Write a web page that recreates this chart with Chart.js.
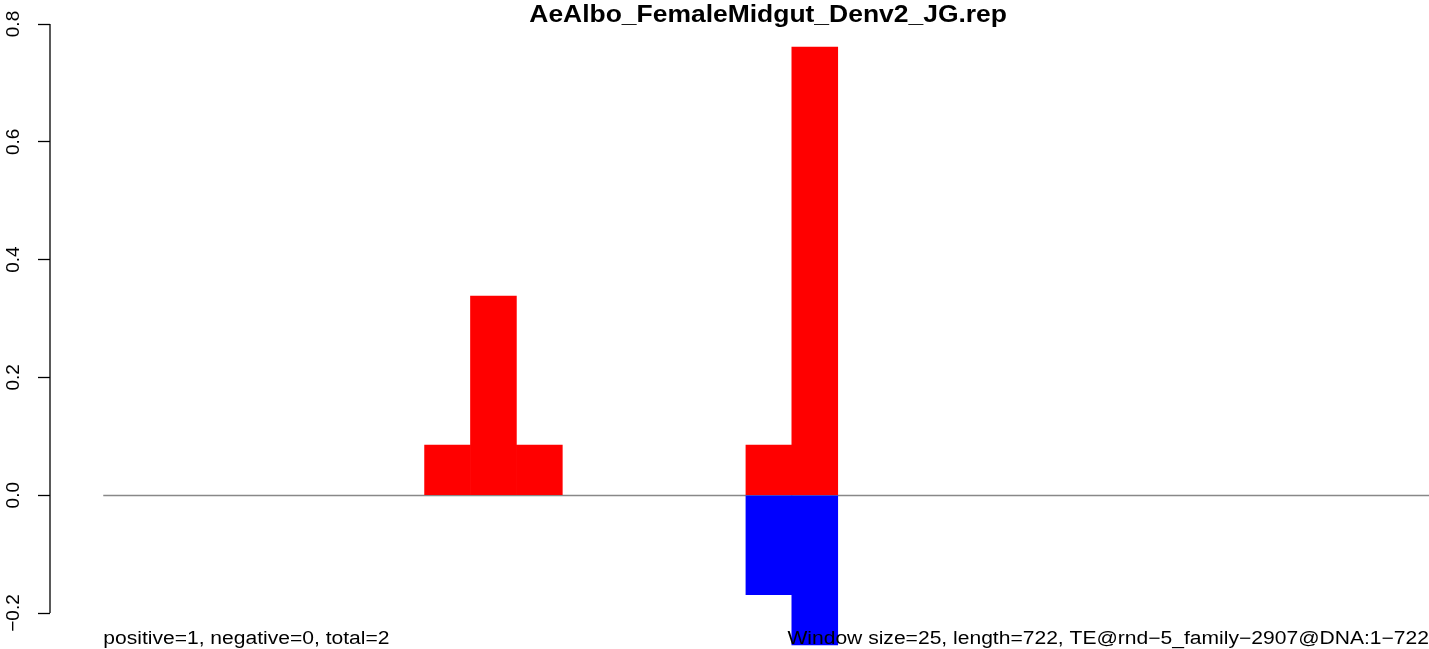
<!DOCTYPE html>
<html lang="en">
<head>
  <meta charset="UTF-8">
  <title>AeAlbo_FemaleMidgut_Denv2_JG.rep</title>
  <script src="https://cdn.jsdelivr.net/npm/chart.js"></script>
  <style>
    html, body {
      margin: 0;
      padding: 0;
      background: #fff;
    }
    #wrap {
      width: 1429px;
      height: 649px;
    }
  </style>
</head>
<body>
  <div id="wrap"><canvas id="repChart"></canvas></div>

  <script>
    const titleText = 'AeAlbo_FemaleMidgut_Denv2_JG.rep';
    const leftNote = 'positive=1, negative=0, total=2';
    const rightNote = 'Window size=25, length=722, TE@rnd\u22125_family\u22122907@DNA:1\u2212722';

    const windowSize = 25;
    const seqLength = 722;
    // one value per 25bp window (29 windows)
    const positiveValues = [0, 0, 0, 0, 0, 0, 0, 0.085, 0.338, 0.085, 0, 0, 0, 0, 0.085, 0.761,
      0, 0, 0, 0, 0, 0, 0, 0, 0, 0, 0, 0, 0];
    const negativeValues = [0, 0, 0, 0, 0, 0, 0, 0, 0, 0, 0, 0, 0, 0, -0.169, -0.254,
      0, 0, 0, 0, 0, 0, 0, 0, 0, 0, 0, 0, 0];
    const yTicks = [-0.2, 0, 0.2, 0.4, 0.6, 0.8];

    // empty windows get no bar at all
    const toPoints = (vals) => vals.map((v, i) => ({ x: i * windowSize + windowSize / 2, y: v === 0 ? null : v }));
    const fmt = (v) => v.toFixed(1).replace('-', '\u2212');

    // R style extras: axis line only between end ticks, zero line, title and notes
    const rExtras = {
      id: 'rExtras',
      beforeDatasetsDraw(chart) {
        const { ctx, scales: { x, y } } = chart;
        const y0 = Math.round(y.getPixelForValue(0)) + 0.5;
        ctx.save();
        ctx.strokeStyle = '#888888';
        ctx.lineWidth = 1.3;
        ctx.beginPath();
        ctx.moveTo(x.getPixelForValue(0), y0);
        ctx.lineTo(x.getPixelForValue(seqLength), y0);
        ctx.stroke();
        ctx.restore();
      },
      afterDraw(chart) {
        const { ctx, chartArea, scales: { x, y } } = chart;
        ctx.save();
        ctx.strokeStyle = '#000';
        ctx.lineWidth = 1.3;
        ctx.beginPath();
        ctx.moveTo(chartArea.left, y.getPixelForValue(yTicks[yTicks.length - 1]));
        ctx.lineTo(chartArea.left, y.getPixelForValue(yTicks[0]));
        ctx.stroke();

        ctx.fillStyle = '#000';
        ctx.textBaseline = 'alphabetic';

        // title, centred on the data range
        ctx.save();
        ctx.translate(x.getPixelForValue(seqLength / 2) + 2, 22);
        ctx.scale(1.15, 1);
        ctx.font = "bold 23px 'Liberation Sans', Arial, sans-serif";
        ctx.textAlign = 'center';
        ctx.fillText(titleText, 0, 0);
        ctx.restore();

        ctx.save();
        ctx.translate(x.getPixelForValue(0), 644);
        ctx.scale(1.17, 1);
        ctx.font = "18px 'Liberation Sans', Arial, sans-serif";
        ctx.textAlign = 'left';
        ctx.fillText(leftNote, 0, 0);
        ctx.restore();

        ctx.save();
        ctx.translate(x.getPixelForValue(seqLength), 644);
        ctx.scale(1.17, 1);
        ctx.font = "18px 'Liberation Sans', Arial, sans-serif";
        ctx.textAlign = 'right';
        ctx.fillText(rightNote, 0, 0);
        ctx.restore();

        ctx.restore();
      }
    };

    const ctx = document.getElementById('repChart').getContext('2d');

    const repChart = new Chart(ctx, {
      type: 'bar',
      data: {
        datasets: [
          {
            label: 'positive',
            data: toPoints(positiveValues),
            backgroundColor: '#ff0000',
            borderWidth: 0,
            grouped: false,
            barPercentage: 1,
            categoryPercentage: 1
          },
          {
            label: 'negative',
            data: toPoints(negativeValues),
            backgroundColor: '#0000ff',
            borderWidth: 0,
            grouped: false,
            barPercentage: 1,
            categoryPercentage: 1
          }
        ]
      },
      options: {
        responsive: true,
        maintainAspectRatio: false,
        animation: false,
        layout: {
          padding: { top: 24, bottom: 3, left: 0, right: 0 }
        },
        plugins: {
          legend: { display: false },
          tooltip: { enabled: false },
          title: { display: false }
        },
        scales: {
          x: {
            type: 'linear',
            min: -29,
            max: seqLength,
            offset: false,
            display: false,
            // no ticks, so bar width comes from the window spacing only
            afterBuildTicks: (s) => { s.ticks = []; }
          },
          y: {
            min: -0.256,
            max: 0.8,
            afterFit: (s) => {
              s.width = 50;
              s.paddingTop = 0;
              s.paddingBottom = 0;
            },
            afterBuildTicks: (s) => { s.ticks = yTicks.map(v => ({ value: v })); },
            border: { display: false },
            grid: {
              drawOnChartArea: false,
              drawTicks: true,
              tickLength: 12,
              tickWidth: 1.3,
              tickColor: '#000'
            },
            ticks: {
              color: '#000',
              font: { family: "'Liberation Sans', Arial, sans-serif", size: 19 },
              minRotation: 90,
              maxRotation: 90,
              crossAlign: 'center',
              padding: 5,
              autoSkip: false,
              callback: (v) => fmt(v)
            }
          }
        }
      },
      plugins: [rExtras]
    });
  </script>
</body>
</html>
